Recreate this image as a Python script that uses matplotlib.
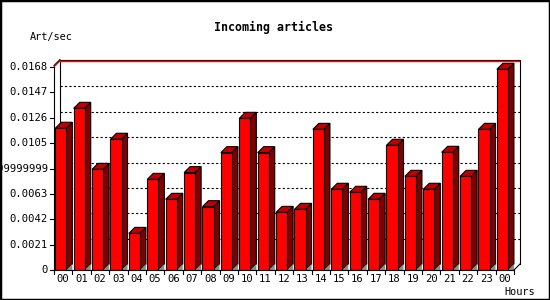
import matplotlib
matplotlib.use("Agg")
import matplotlib.pyplot as plt
from matplotlib.patches import Polygon, Rectangle

# ---------------- data ----------------
hours = ["00", "01", "02", "03", "04", "05", "06", "07", "08", "09", "10", "11",
         "12", "13", "14", "15", "16", "17", "18", "19", "20", "21", "22", "23", "00"]
rates = [0.01173, 0.01338, 0.00833, 0.01082, 0.00303, 0.00750, 0.00585, 0.00806,
         0.00524, 0.00971, 0.01255, 0.00971, 0.00477, 0.00502, 0.01164, 0.00668,
         0.00643, 0.00585, 0.01032, 0.00775, 0.00668, 0.00974, 0.00775, 0.01164,
         0.01661]
ytick_values = [0, 0.0021, 0.0042, 0.0063, 0.0084, 0.0105, 0.0126, 0.0147, 0.0168]
ytick_labels = ["0", "0.0021", "0.0042", "0.0063", "0.00839999999999999",
                "0.0105", "0.0126", "0.0147", "0.0168"]
title = "Incoming articles"
ylabel = "Art/sec"
xlabel = "Hours"

# ---------------- layout (pixels) ----------------
W, H = 550, 300
front_left, front_right = 54, 514
base_y, top_y = 270, 67          # pixel rows of 0 and of ymax (front plane)
depth = 6                        # 3-D depth in pixels
ymax = ytick_values[-1]
n = len(rates)

fig = plt.figure(figsize=(W / 100, H / 100), dpi=100)
fig.patch.set_facecolor("white")

ax_left = front_left
ax_right = front_right + depth
ax_top = top_y - depth - 2
ax = fig.add_axes([ax_left / W, (H - base_y) / H,
                   (ax_right - ax_left) / W, (base_y - ax_top) / H])
ax.set_axis_off()

px_per_slot = (front_right - front_left) / n
px_per_unit = (base_y - top_y) / ymax
x0, x1 = -0.5, n - 0.5
ax.set_xlim(x0, x0 + (ax_right - ax_left) / px_per_slot)
ax.set_ylim(0, (base_y - ax_top) / px_per_unit)

dx = depth / px_per_slot
dy = depth / px_per_unit
px_x = 1 / px_per_slot
px_y = 1 / px_per_unit
lw = 0.8

# ---------------- back plane ----------------
ytop_back = ymax + dy + 1.5 * px_y
ax.plot([x0 + dx, x0 + dx, x1 + dx, x1 + dx], [dy, ytop_back, ytop_back, dy],
        color="black", lw=lw, clip_on=False, zorder=1)
ax.plot([x0 + dx, x1 + dx - px_x], [ymax + dy - 0.2 * px_y] * 2, color="red", lw=1.0,
        clip_on=False, zorder=1.5)
ax.plot([x0, x0 + dx], [ymax, ymax + dy], color="red", lw=lw, clip_on=False, zorder=1)
ax.plot([x0, x0 + dx], [ymax + 1.5 * px_y, ymax + dy + 1.5 * px_y], color="black",
        lw=lw, clip_on=False, zorder=1)

# dotted grid lines on back plane
for v in ytick_values[1:-1]:
    ax.plot([x0 + dx, x1 + dx], [v + dy, v + dy], color="black", lw=lw,
            linestyle=(0, (2, 2)), clip_on=False, zorder=1)

# ---------------- bars ----------------
front_w = 0.6
side_off = 0.07
lefts = [i - 0.5 + side_off for i in range(n)]
ax.bar(lefts, rates, width=front_w, align="edge", color="#ff0000",
       edgecolor="black", linewidth=lw, zorder=4)
for xl, v in zip(lefts, rates):
    xr = xl + front_w
    side = Polygon([(xr, 0), (xr + dx, dy), (xr + dx, v + dy), (xr, v)],
                   closed=True, facecolor="#800000", edgecolor="black", lw=lw, zorder=3)
    top = Polygon([(xl, v), (xl + dx, v + dy), (xr + dx, v + dy), (xr, v)],
                  closed=True, facecolor="#c00000", edgecolor="black", lw=lw, zorder=3)
    shadow = Polygon([(xr, 0), (xr + dx, dy), (xr + dx, 0)], closed=True,
                     facecolor="#8c8c8c", edgecolor="none", zorder=3.5)
    for p in (side, top, shadow):
        p.set_clip_on(False)
        ax.add_patch(p)

# ---------------- front axes ----------------
ax.plot([x0, x0], [0, ymax], color="black", lw=lw, clip_on=False, zorder=5)
ax.plot([x0, x1], [0, 0], color="black", lw=lw, clip_on=False, zorder=5)
ax.plot([x1, x1 + dx], [0, dy], color="black", lw=lw, clip_on=False, zorder=5)

for v in ytick_values:
    ax.plot([x0 - 4 * px_x, x0], [v, v], color="black", lw=lw, clip_on=False, zorder=5)
for b in range(n + 1):
    xb = b - 0.5
    ax.plot([xb, xb], [0, -4 * px_y], color="black", lw=lw, clip_on=False, zorder=5)

mono = "DejaVu Sans Mono"
for v, lab in zip(ytick_values, ytick_labels):
    ax.text(x0 - 6 * px_x, v, lab, ha="right", va="center", fontsize=7.6,
            family=mono, clip_on=False)
for i, lab in enumerate(hours):
    ax.text(i, -9.5 * px_y, lab, ha="center", va="center", fontsize=7.6,
            family=mono, clip_on=False)

# ---------------- titles ----------------
fig.text(274 / W, 1 - 27 / H, title, ha="center", va="center", fontsize=8.4,
         family=mono, fontweight="bold")
fig.text(30 / W, 1 - 37 / H, ylabel, ha="left", va="center", fontsize=7.4, family=mono)
fig.text(504 / W, 1 - 292 / H, xlabel, ha="left", va="center", fontsize=7.4, family=mono)

# outer frame
fig.patches.append(Rectangle((0, 0), 1, 1, transform=fig.transFigure, fill=False,
                             edgecolor="black", lw=2.5, zorder=10))

fig.savefig("out.png", dpi=100)
